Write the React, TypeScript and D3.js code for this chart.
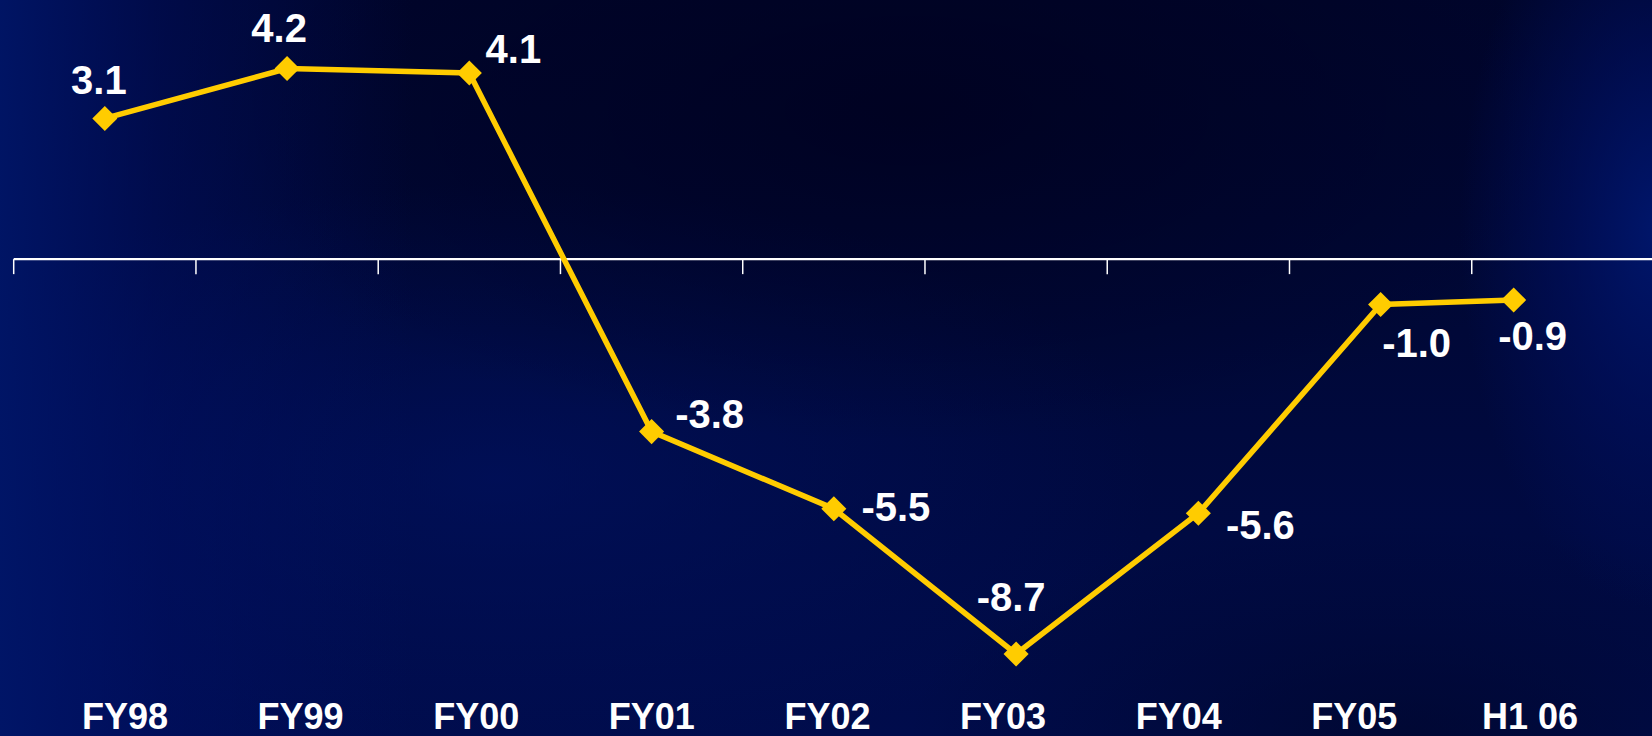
import React from "react";
import * as d3 from "d3";

const categories = ["FY98", "FY99", "FY00", "FY01", "FY02", "FY03", "FY04", "FY05", "H1 06"];
const values = [3.1, 4.2, 4.1, -3.8, -5.5, -8.7, -5.6, -1.0, -0.9];
// period position of each point (H1 06 is a half-year period after FY05)
const periods = [0, 1, 2, 3, 4, 5, 6, 7, 7.73];
const valueLabels = ["3.1", "4.2", "4.1", "-3.8", "-5.5", "-8.7", "-5.6", "-1.0", "-0.9"];

// label placement offsets (dx, dy) relative to each marker
const labelOffsets: [number, number][] = [
  [-6, -24], [-8, -27], [44, -10], [58, -4], [62, 12], [-5, -43], [62, 26], [36, 52], [19, 50],
];

const W = 1652;
const H = 736;

export default function App() {
  const band = d3.scaleBand<string>().domain(categories).range([13.7, 1654]).paddingInner(0).paddingOuter(0);
  const x = d3
    .scaleLinear()
    .domain([0, categories.length - 1])
    .range([13.7 + band.bandwidth() / 2, 13.7 + band.bandwidth() * (categories.length - 0.5)]);
  const y = d3.scaleLinear().domain([-10, 5]).range([713, 32.2]);
  const labelX = d3.scalePoint<string>().domain(categories).range([125, 1530]);

  const pts = values.map((v, i) => [x(periods[i]), y(v)] as [number, number]);
  const line = d3.line()(pts) || "";
  const diamond = d3.symbol().type(d3.symbolDiamond2).size(400)() || "";
  const y0 = y(0);
  const tickXs = categories.map((c) => band(c) as number);

  return (
    <svg
      width={W}
      height={H}
      style={{ position: "absolute", left: 0, top: 0, display: "block" }}
      fontFamily="'Liberation Sans', Arial, sans-serif"
    >
      <defs>
        <linearGradient id="bgV" x1="0" y1="0" x2="0" y2="1">
          <stop offset="0" stopColor="#00052c" />
          <stop offset="0.45" stopColor="#000838" />
          <stop offset="1" stopColor="#000c4c" />
        </linearGradient>
        <linearGradient id="leftGlow" x1="0" y1="0" x2="1" y2="0">
          <stop offset="0" stopColor="#00166a" stopOpacity="0.9" />
          <stop offset="0.1" stopColor="#00116a" stopOpacity="0.45" />
          <stop offset="0.25" stopColor="#00116a" stopOpacity="0" />
        </linearGradient>
        <radialGradient
          id="rightGlow"
          gradientUnits="userSpaceOnUse"
          cx="0"
          cy="0"
          r="200"
          gradientTransform="translate(1660 230) scale(1 1.9)"
        >
          <stop offset="0" stopColor="#00176e" stopOpacity="0.95" />
          <stop offset="0.5" stopColor="#00126a" stopOpacity="0.5" />
          <stop offset="1" stopColor="#00126a" stopOpacity="0" />
        </radialGradient>
        <radialGradient id="darkBlob" cx="0.55" cy="0.15" r="0.45">
          <stop offset="0" stopColor="#00001c" stopOpacity="0.7" />
          <stop offset="1" stopColor="#00001c" stopOpacity="0" />
        </radialGradient>
        <radialGradient id="blueBlob" cx="0.3" cy="0.65" r="0.4">
          <stop offset="0" stopColor="#001264" stopOpacity="0.6" />
          <stop offset="1" stopColor="#001264" stopOpacity="0" />
        </radialGradient>
        <radialGradient id="darkBR" cx="0.85" cy="1" r="0.3">
          <stop offset="0" stopColor="#000524" stopOpacity="0.6" />
          <stop offset="1" stopColor="#000524" stopOpacity="0" />
        </radialGradient>
      </defs>
      <rect width={W} height={H} fill="url(#bgV)" />
      <rect width={W} height={H} fill="url(#blueBlob)" />
      <rect width={W} height={H} fill="url(#darkBlob)" />
      <rect width={W} height={H} fill="url(#darkBR)" />
      <rect width={W} height={H} fill="url(#leftGlow)" />
      <rect width={W} height={H} fill="url(#rightGlow)" />

      {/* axis */}
      <line x1={13.7} x2={W} y1={y0} y2={y0} stroke="#ffffff" strokeWidth={2.2} />
      {tickXs.map((tx, i) => (
        <line key={i} x1={tx} x2={tx} y1={y0} y2={y0 + 15} stroke="#ffffff" strokeWidth={1.5} />
      ))}

      {/* series */}
      <path d={line} fill="none" stroke="#ffcc00" strokeWidth={5.5} strokeLinejoin="miter" />
      {pts.map((p, i) => (
        <path key={i} d={diamond} transform={`translate(${p[0]},${p[1]})`} fill="#ffcc00" />
      ))}

      {/* value labels */}
      {pts.map((p, i) => (
        <text
          key={i}
          x={p[0] + labelOffsets[i][0]}
          y={p[1] + labelOffsets[i][1]}
          textAnchor="middle"
          fontSize={40}
          fontWeight="bold"
          fill="#ffffff"
        >
          {valueLabels[i]}
        </text>
      ))}

      {/* category labels */}
      {categories.map((c) => (
        <text
          key={c}
          x={labelX(c)}
          y={729}
          textAnchor="middle"
          fontSize={36}
          fontWeight="bold"
          fill="#ffffff"
        >
          {c}
        </text>
      ))}
    </svg>
  );
}
